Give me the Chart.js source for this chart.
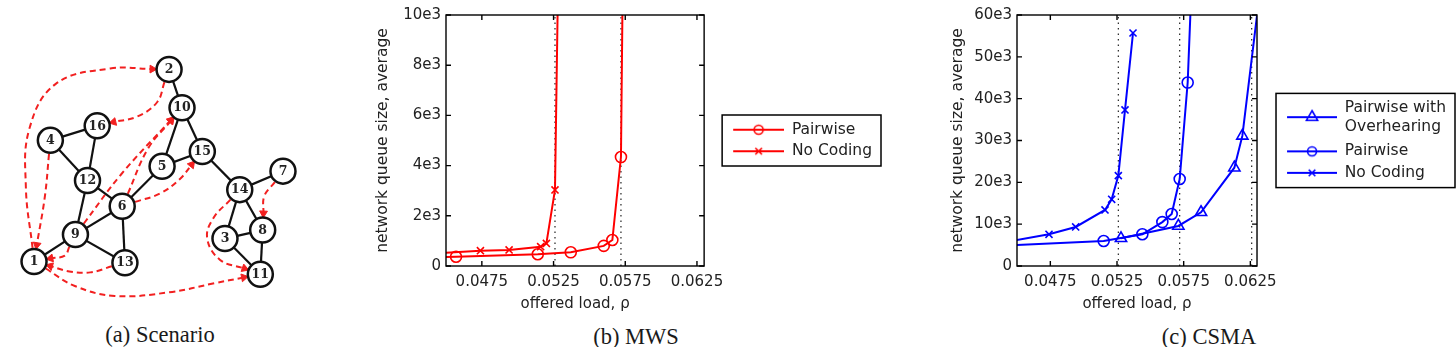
<!DOCTYPE html>
<html>
<head>
<meta charset="utf-8">
<script src="https://cdn.jsdelivr.net/npm/chart.js@4.4.1/dist/chart.umd.min.js"></script>
<style>
  html, body { margin: 0; padding: 0; background: #fff; }
  body { width: 1456px; height: 347px; position: relative; overflow: hidden; }
  canvas { position: absolute; }
  .cap { position: absolute; width: 300px; text-align: center; font-family: "Liberation Serif", serif; font-size: 22.5px; line-height: 26px; color: #1a1a1a; }
</style>
</head>
<body>
<canvas id="graph" width="320" height="320" style="left:0;top:0"></canvas>
<canvas id="mws" width="540" height="313" style="left:360px;top:0"></canvas>
<canvas id="csma" width="516" height="313" style="left:940px;top:0"></canvas>
<div class="cap" style="left:10px;top:322px">(a) Scenario</div>
<div class="cap" style="left:486px;top:324px">(b) MWS</div>
<div class="cap" style="left:1059px;top:324px">(c) CSMA</div>
<script>
// --- (a) scenario: node positions and links
const nodeIds = [1, 2, 3, 4, 5, 6, 7, 8, 9, 10, 11, 12, 13, 14, 15, 16];
const nodeX = [21, 170, 231.7, 39, 162.3, 118.3, 295.7, 273.3, 66.7, 184.3, 270.7, 80, 121.3, 248, 206.7, 90.7];
const nodeY = [272, 60, 246.7, 138.3, 167, 211, 172.3, 237.3, 242.3, 102.3, 286, 182.7, 273.3, 192.7, 150.7, 122.3];
const links = [[2, 10], [10, 5], [10, 15], [5, 15], [5, 6], [15, 14], [14, 7], [14, 3], [14, 8], [3, 8], [3, 11],
  [8, 11], [4, 16], [4, 12], [16, 12], [12, 6], [12, 9], [6, 9], [6, 13], [9, 1], [9, 13]];
// flows (dashed arrows) and the points their paths pass through
const flowFrom = [1, 2, 4, 9, 6, 6, 9, 13, 1, 7, 14];
const flowTo = [2, 16, 1, 10, 10, 15, 1, 1, 11, 8, 11];
const flowVia = [
  [[12, 190], [16, 125], [45, 76], [105, 59]],
  [[157, 96], [135, 112]],
  [[33, 200]],
  [[117, 176]],
  [[147, 147]],
  [[160, 197], [182, 181]],
  [[55, 265.5]],
  [[83, 284], [60, 283]],
  [[66, 299], [110, 310], [170, 306], [220, 296]],
  [[275, 200]],
  [[219, 224], [212, 246], [226, 270]]
];

// --- (b) MWS
const loadTicks = [0.0475, 0.0525, 0.0575, 0.0625];
const mwsPairX = [0.0425, 0.0457, 0.0514, 0.0537, 0.0560, 0.0566, 0.0572, 0.0575];
const mwsPairY = [300, 370, 470, 545, 800, 1035, 4340, 21300];
const mwsNoCodX = [0.0425, 0.0474, 0.0494, 0.0516, 0.0520, 0.0526, 0.0530];
const mwsNoCodY = [450, 610, 640, 770, 900, 3030, 18500];
const mwsLimits = [0.0526, 0.0572];

// --- (c) CSMA
const csmaOverX = [0.0528, 0.0571, 0.0588, 0.0613, 0.0619, 0.0635];
const csmaOverY = [6620, 9570, 12850, 23500, 31100, 73000];
const csmaPairX = [0.0425, 0.0515, 0.0544, 0.0559, 0.0566, 0.0572, 0.0578, 0.0585];
const csmaPairY = [4650, 5980, 7580, 10500, 12440, 20800, 43850, 100000];
const csmaNoCodX = [0.0425, 0.0474, 0.0494, 0.0516, 0.0521, 0.0526, 0.0531, 0.0537];
const csmaNoCodY = [4800, 7580, 9330, 13400, 15950, 21600, 37300, 55700];
const csmaLimits = [0.0526, 0.0572, 0.0626];

const FONT = 'DejaVu Sans';
const RED = '#ff0000';
const BLUE = '#0000ff';
const DASH_RED = '#f22020';
Chart.defaults.font.family = FONT;

// ---------- panel (a)
const R_NODE = 14;
const ARROW = 4.5;
function nodePos(id) {
  const i = nodeIds.indexOf(id);
  return { x: nodeX[i], y: nodeY[i] };
}
function toward(c, p, d) {
  const dx = p.x - c.x, dy = p.y - c.y, n = Math.hypot(dx, dy);
  return { x: c.x + dx / n * d, y: c.y + dy / n * d };
}

const graphSets = [{
  data: nodeIds.map((id, i) => ({ x: nodeX[i], y: nodeY[i] })),
  showLine: false,
  pointStyle: 'circle',
  pointRadius: 12.5,
  pointBorderWidth: 2.5,
  pointBackgroundColor: '#fff',
  pointBorderColor: '#111'
}];
links.forEach(([a, b]) => {
  graphSets.push({
    data: [nodePos(a), nodePos(b)],
    showLine: true, borderColor: '#111', borderWidth: 2.2, pointRadius: 0
  });
});
flowFrom.forEach((from, k) => {
  const via = flowVia[k].map(p => ({ x: p[0], y: p[1] }));
  const a = nodePos(from), b = nodePos(flowTo[k]);
  const start = toward(a, via[0], R_NODE + 1);
  const last = via[via.length - 1];
  const end = toward(b, last, R_NODE + ARROW);
  const pts = [start, ...via, end];
  const ang = Math.atan2(end.y - last.y, end.x - last.x) * 180 / Math.PI + 90;
  graphSets.push({
    data: pts,
    showLine: true,
    borderColor: DASH_RED,
    borderWidth: 2,
    borderDash: [6, 4],
    tension: 0.4,
    pointStyle: 'triangle',
    pointRadius: pts.map((p, i) => i === pts.length - 1 ? ARROW : 0),
    pointRotation: pts.map((p, i) => i === pts.length - 1 ? ang : 0),
    pointBackgroundColor: DASH_RED,
    pointBorderColor: DASH_RED,
    pointBorderWidth: 1
  });
});

const nodeLabels = {
  id: 'nodeLabels',
  afterDatasetsDraw(chart) {
    const ctx = chart.ctx;
    const meta = chart.getDatasetMeta(0);
    ctx.save();
    ctx.font = 'bold 12.5px "DejaVu Serif"';
    ctx.fillStyle = '#222';
    ctx.textAlign = 'center';
    ctx.textBaseline = 'middle';
    meta.data.forEach((pt, i) => ctx.fillText(String(nodeIds[i]), pt.x, pt.y + 0.5));
    ctx.restore();
  }
};

new Chart(document.getElementById('graph'), {
  type: 'scatter',
  data: { datasets: graphSets },
  options: {
    responsive: false, animation: false, events: [],
    layout: { padding: 0 },
    plugins: { legend: { display: false }, tooltip: { enabled: false } },
    scales: {
      x: { type: 'linear', display: false, min: 0, max: 320 },
      y: { type: 'linear', display: false, min: 0, max: 320, reverse: true }
    }
  },
  plugins: [nodeLabels]
});

// ---------- panels (b) and (c)
function sample(color, marker, w, margin, h, lineY) {
  const c = document.createElement('canvas');
  c.width = w; c.height = h;
  const g = c.getContext('2d');
  g.strokeStyle = color;
  g.lineWidth = 2;
  g.beginPath(); g.moveTo(margin, lineY); g.lineTo(w, lineY); g.stroke();
  const cx = (margin + w) / 2;
  g.lineWidth = 1.6;
  g.beginPath();
  if (marker === 'circle') {
    g.arc(cx, lineY, 4.5, 0, Math.PI * 2);
  } else if (marker === 'crossRot') {
    g.moveTo(cx - 3.3, lineY - 3.3); g.lineTo(cx + 3.3, lineY + 3.3);
    g.moveTo(cx + 3.3, lineY - 3.3); g.lineTo(cx - 3.3, lineY + 3.3);
  } else {
    g.moveTo(cx, lineY - 6.5); g.lineTo(cx + 5.6, lineY + 3.2); g.lineTo(cx - 5.6, lineY + 3.2); g.closePath();
  }
  g.stroke();
  return c;
}

function framePlugin(margin) {
  return {
    id: 'frame',
    afterDatasetsDraw(chart) {
      const a = chart.chartArea, ctx = chart.ctx;
      const xs = chart.scales.x, ys = chart.scales.y;
      ctx.save();
      ctx.strokeStyle = '#000';
      ctx.lineWidth = 1.4;
      ctx.strokeRect(a.left, a.top, a.right - a.left, a.bottom - a.top);
      ctx.beginPath();
      xs.ticks.forEach(t => {
        const x = xs.getPixelForValue(t.value);
        ctx.moveTo(x, a.bottom); ctx.lineTo(x, a.bottom - 5);
        ctx.moveTo(x, a.top); ctx.lineTo(x, a.top + 5);
      });
      ys.ticks.forEach(t => {
        const y = ys.getPixelForValue(t.value);
        ctx.moveTo(a.left, y); ctx.lineTo(a.left + 5, y);
        ctx.moveTo(a.right, y); ctx.lineTo(a.right - 5, y);
      });
      ctx.stroke();
      const hb = chart.legend && chart.legend.legendHitBoxes;
      if (hb && hb.length) {
        const l = hb[0].left + margin - 11;
        const r = Math.max(...hb.map(h => h.left + h.width)) + 9;
        const t = hb[0].top - 7;
        const last = hb[hb.length - 1];
        const b = last.top + last.height + 7;
        ctx.lineWidth = 1.5;
        ctx.strokeRect(l, t, r - l, b - t);
      }
      ctx.restore();
    }
  };
}

function queueChart(id, series, limits, yMax, yStep, yWidth, padLeft, padRight, margin) {
  const datasets = series.map(s => ({
    data: s.x.map((x, i) => ({ x: x, y: s.y[i] })),
    showLine: true,
    borderColor: s.color,
    borderWidth: 2,
    pointStyle: s.marker,
    pointRadius: s.radius,
    pointBorderWidth: 1.6,
    pointBorderColor: s.color,
    pointBackgroundColor: 'rgba(0,0,0,0)'
  }));
  limits.forEach(c => datasets.push({
    data: [{ x: c, y: 0 }, { x: c, y: yMax }],
    showLine: true, borderColor: '#222', borderWidth: 1.2, borderDash: [1.5, 4], pointRadius: 0
  }));
  const tickFont = { family: FONT, size: 15 };
  return new Chart(document.getElementById(id), {
    type: 'scatter',
    data: { datasets },
    options: {
      responsive: false, animation: false, events: [],
      layout: { padding: { left: padLeft, right: padRight, top: 15, bottom: 0 } },
      plugins: {
        tooltip: { enabled: false },
        legend: {
          position: 'right', align: 'center', fullSize: false, maxWidth: 260,
          labels: {
            usePointStyle: true, pointStyleWidth: 74, padding: 6,
            font: { family: FONT, size: 15.5 }, color: '#222',
            generateLabels: () => series.map((s, i) => ({
              text: s.label,
              pointStyle: sample(s.color, s.marker, 74, margin, s.sampleH, s.sampleY),
              datasetIndex: i, hidden: false, lineWidth: 0,
              strokeStyle: 'rgba(0,0,0,0)', fillStyle: 'rgba(0,0,0,0)', fontColor: '#222'
            }))
          }
        }
      },
      scales: {
        x: {
          type: 'linear', min: 0.045, max: 0.063,
          afterBuildTicks: s => { s.ticks = loadTicks.map(v => ({ value: v })); },
          afterFit: s => { s.height = 47; },
          grid: { display: false, drawTicks: false }, border: { display: false },
          ticks: { font: tickFont, color: '#222', padding: 7, maxRotation: 0, autoSkip: false, callback: v => v.toFixed(4) },
          title: { display: true, text: 'offered load, ρ', font: { family: FONT, size: 15 }, color: '#222', padding: 0 }
        },
        y: {
          type: 'linear', min: 0, max: yMax,
          afterFit: s => { s.width = yWidth; },
          grid: { display: false, drawTicks: false }, border: { display: false },
          ticks: { stepSize: yStep, font: tickFont, color: '#222', padding: 5, callback: v => v === 0 ? '0' : (v / 1000) + 'e3' },
          title: { display: true, text: 'network queue size, average', font: { family: FONT, size: 15.5 }, color: '#222', padding: 0 }
        }
      }
    },
    plugins: [framePlugin(margin)]
  });
}

queueChart('mws', [
  { label: 'Pairwise', x: mwsPairX, y: mwsPairY, color: RED, marker: 'circle', radius: 5.5, sampleH: 16, sampleY: 8 },
  { label: 'No Coding', x: mwsNoCodX, y: mwsNoCodY, color: RED, marker: 'crossRot', radius: 5, sampleH: 16, sampleY: 8 }
], mwsLimits, 10000, 2000, 72, 14, 18, 23);

queueChart('csma', [
  { label: ['Pairwise with', 'Overhearing'], x: csmaOverX, y: csmaOverY, color: BLUE, marker: 'triangle', radius: 6.5, sampleH: 34, sampleY: 26 },
  { label: 'Pairwise', x: csmaPairX, y: csmaPairY, color: BLUE, marker: 'circle', radius: 5.5, sampleH: 16, sampleY: 8 },
  { label: 'No Coding', x: csmaNoCodX, y: csmaNoCodY, color: BLUE, marker: 'crossRot', radius: 5, sampleH: 16, sampleY: 8 }
], csmaLimits, 60000, 10000, 68, 9, 0, 24);
</script>
</body>
</html>
